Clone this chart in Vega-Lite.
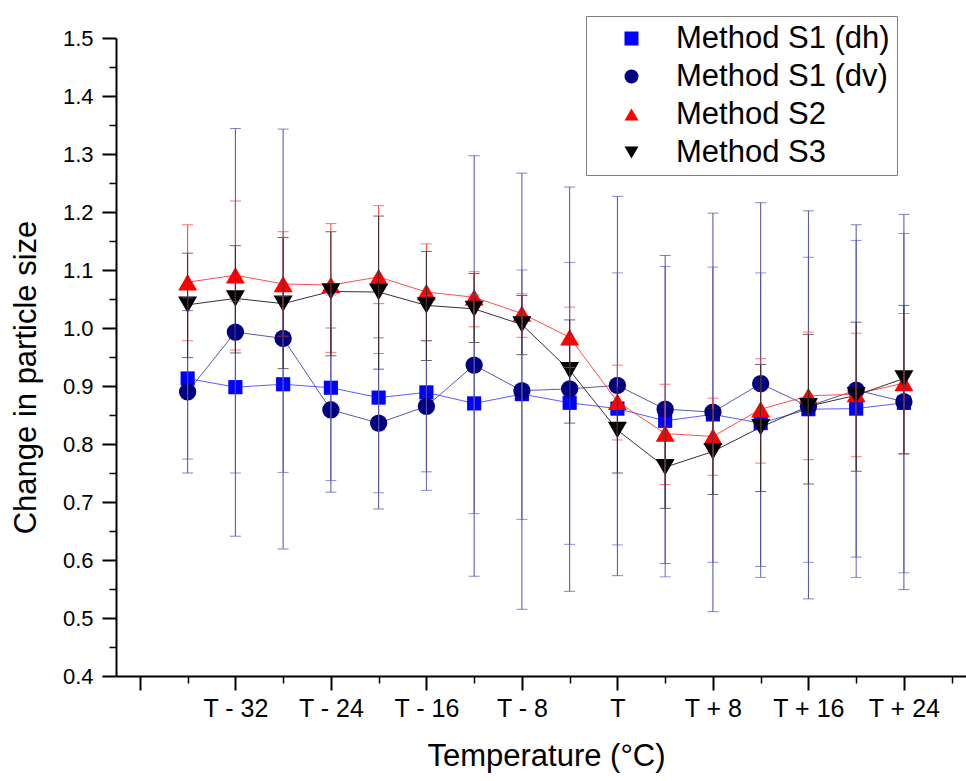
{
  "$schema": "https://vega.github.io/schema/vega-lite/v6.json",
  "width": 850,
  "height": 638,
  "autosize": {"type": "none"},
  "padding": {"left": 116, "top": 38, "right": 0, "bottom": 105},
  "background": "white",
  "config": {
    "view": {"stroke": null},
    "font": "Liberation Sans",
    "axis": {"grid": false, "domainColor": "black", "tickColor": "black", "labelColor": "black", "titleColor": "black", "labelFont": "Liberation Sans", "titleFont": "Liberation Sans", "titleFontWeight": "normal"},
    "legend": {"labelFont": "Liberation Sans"}
  },
  "data": {
    "values": [
      {"series": "Method S1 (dh)", "t": -36, "v": 0.913, "lo": 0.774, "hi": 1.052},
      {"series": "Method S1 (dh)", "t": -32, "v": 0.898, "lo": 0.750, "hi": 1.046},
      {"series": "Method S1 (dh)", "t": -28, "v": 0.903, "lo": 0.751, "hi": 1.055},
      {"series": "Method S1 (dh)", "t": -24, "v": 0.897, "lo": 0.737, "hi": 1.057},
      {"series": "Method S1 (dh)", "t": -20, "v": 0.880, "lo": 0.716, "hi": 1.042},
      {"series": "Method S1 (dh)", "t": -16, "v": 0.889, "lo": 0.720, "hi": 1.056},
      {"series": "Method S1 (dh)", "t": -12, "v": 0.870, "lo": 0.680, "hi": 1.057},
      {"series": "Method S1 (dh)", "t": -8, "v": 0.886, "lo": 0.670, "hi": 1.100},
      {"series": "Method S1 (dh)", "t": -4, "v": 0.871, "lo": 0.627, "hi": 1.113},
      {"series": "Method S1 (dh)", "t": 0, "v": 0.861, "lo": 0.626, "hi": 1.095},
      {"series": "Method S1 (dh)", "t": 4, "v": 0.840, "lo": 0.571, "hi": 1.106},
      {"series": "Method S1 (dh)", "t": 8, "v": 0.851, "lo": 0.596, "hi": 1.105},
      {"series": "Method S1 (dh)", "t": 12, "v": 0.836, "lo": 0.570, "hi": 1.095},
      {"series": "Method S1 (dh)", "t": 16, "v": 0.860, "lo": 0.596, "hi": 1.122},
      {"series": "Method S1 (dh)", "t": 20, "v": 0.861, "lo": 0.570, "hi": 1.151},
      {"series": "Method S1 (dh)", "t": 24, "v": 0.871, "lo": 0.578, "hi": 1.163},
      {"series": "Method S1 (dv)", "t": -36, "v": 0.890, "lo": 0.750, "hi": 1.030},
      {"series": "Method S1 (dv)", "t": -32, "v": 0.993, "lo": 0.641, "hi": 1.344},
      {"series": "Method S1 (dv)", "t": -28, "v": 0.982, "lo": 0.619, "hi": 1.343},
      {"series": "Method S1 (dv)", "t": -24, "v": 0.859, "lo": 0.717, "hi": 1.000},
      {"series": "Method S1 (dv)", "t": -20, "v": 0.836, "lo": 0.688, "hi": 0.983},
      {"series": "Method S1 (dv)", "t": -16, "v": 0.865, "lo": 0.752, "hi": 0.978},
      {"series": "Method S1 (dv)", "t": -12, "v": 0.936, "lo": 0.572, "hi": 1.297},
      {"series": "Method S1 (dv)", "t": -8, "v": 0.892, "lo": 0.515, "hi": 1.267},
      {"series": "Method S1 (dv)", "t": -4, "v": 0.895, "lo": 0.546, "hi": 1.243},
      {"series": "Method S1 (dv)", "t": 0, "v": 0.901, "lo": 0.573, "hi": 1.227},
      {"series": "Method S1 (dv)", "t": 4, "v": 0.860, "lo": 0.594, "hi": 1.125},
      {"series": "Method S1 (dv)", "t": 8, "v": 0.855, "lo": 0.511, "hi": 1.198},
      {"series": "Method S1 (dv)", "t": 12, "v": 0.904, "lo": 0.589, "hi": 1.216},
      {"series": "Method S1 (dv)", "t": 16, "v": 0.865, "lo": 0.533, "hi": 1.202},
      {"series": "Method S1 (dv)", "t": 20, "v": 0.893, "lo": 0.605, "hi": 1.178},
      {"series": "Method S1 (dv)", "t": 24, "v": 0.873, "lo": 0.549, "hi": 1.196},
      {"series": "Method S2", "t": -36, "v": 1.079, "lo": 0.978, "hi": 1.178},
      {"series": "Method S2", "t": -32, "v": 1.091, "lo": 0.962, "hi": 1.219},
      {"series": "Method S2", "t": -28, "v": 1.076, "lo": 0.986, "hi": 1.166},
      {"series": "Method S2", "t": -24, "v": 1.074, "lo": 0.958, "hi": 1.180},
      {"series": "Method S2", "t": -20, "v": 1.088, "lo": 0.956, "hi": 1.211},
      {"series": "Method S2", "t": -16, "v": 1.062, "lo": 0.978, "hi": 1.145},
      {"series": "Method S2", "t": -12, "v": 1.053, "lo": 1.002, "hi": 1.097},
      {"series": "Method S2", "t": -8, "v": 1.025, "lo": 0.984, "hi": 1.059},
      {"series": "Method S2", "t": -4, "v": 0.984, "lo": 0.932, "hi": 1.036},
      {"series": "Method S2", "t": 0, "v": 0.873, "lo": 0.807, "hi": 0.936},
      {"series": "Method S2", "t": 4, "v": 0.818, "lo": 0.730, "hi": 0.903},
      {"series": "Method S2", "t": 8, "v": 0.813, "lo": 0.746, "hi": 0.879},
      {"series": "Method S2", "t": 12, "v": 0.860, "lo": 0.767, "hi": 0.947},
      {"series": "Method S2", "t": 16, "v": 0.883, "lo": 0.773, "hi": 0.993},
      {"series": "Method S2", "t": 20, "v": 0.886, "lo": 0.778, "hi": 0.991},
      {"series": "Method S2", "t": 24, "v": 0.905, "lo": 0.783, "hi": 1.025},
      {"series": "Method S3", "t": -36, "v": 1.040, "lo": 0.949, "hi": 1.129},
      {"series": "Method S3", "t": -32, "v": 1.051, "lo": 0.957, "hi": 1.142},
      {"series": "Method S3", "t": -28, "v": 1.042, "lo": 0.930, "hi": 1.156},
      {"series": "Method S3", "t": -24, "v": 1.063, "lo": 0.952, "hi": 1.166},
      {"series": "Method S3", "t": -20, "v": 1.062, "lo": 0.929, "hi": 1.193},
      {"series": "Method S3", "t": -16, "v": 1.039, "lo": 0.944, "hi": 1.132},
      {"series": "Method S3", "t": -12, "v": 1.033, "lo": 0.975, "hi": 1.094},
      {"series": "Method S3", "t": -8, "v": 1.006, "lo": 0.954, "hi": 1.056},
      {"series": "Method S3", "t": -4, "v": 0.927, "lo": 0.836, "hi": 1.014},
      {"series": "Method S3", "t": 0, "v": 0.824, "lo": 0.750, "hi": 0.898},
      {"series": "Method S3", "t": 4, "v": 0.760, "lo": 0.689, "hi": 0.831},
      {"series": "Method S3", "t": 8, "v": 0.787, "lo": 0.713, "hi": 0.861},
      {"series": "Method S3", "t": 12, "v": 0.829, "lo": 0.718, "hi": 0.937},
      {"series": "Method S3", "t": 16, "v": 0.865, "lo": 0.731, "hi": 0.989},
      {"series": "Method S3", "t": 20, "v": 0.884, "lo": 0.753, "hi": 1.010},
      {"series": "Method S3", "t": 24, "v": 0.913, "lo": 0.783, "hi": 1.039}
    ]
  },
  "resolve": {"axis": {"x": "independent", "y": "independent"}},
  "layer": [
    {
      "mark": {"type": "line", "strokeWidth": 1},
      "encoding": {
        "x": {"field": "t", "type": "quantitative", "scale": {"domain": [-42, 29.2], "nice": false, "zero": false},
          "axis": {"orient": "bottom", "values": [-36, -28, -20, -12, -4, 4, 12, 20, 28], "tickSize": 7, "tickWidth": 1.5, "labels": false, "domain": false, "title": null}},
        "y": {"field": "v", "type": "quantitative", "scale": {"domain": [0.4, 1.5], "nice": false, "zero": false},
          "axis": {"orient": "left", "values": [0.45, 0.55, 0.65, 0.75, 0.85, 0.95, 1.05, 1.15, 1.25, 1.35, 1.45], "tickSize": 7, "tickWidth": 1.5, "labels": false, "domain": false, "title": null}},
        "detail": {"field": "series", "type": "nominal"},
        "stroke": {"condition": [
          {"test": "datum.series === 'Method S1 (dh)'", "value": "#5c5cff"},
          {"test": "datum.series === 'Method S1 (dv)'", "value": "#5a5aa8"},
          {"test": "datum.series === 'Method S2'", "value": "#ff4d4d"}], "value": "#333333"}
      }
    },
    {
      "mark": {"type": "point", "filled": true, "opacity": 1, "strokeWidth": 0},
      "encoding": {
        "x": {"field": "t", "type": "quantitative", "scale": {"domain": [-42, 29.2], "nice": false, "zero": false},
          "axis": {"orient": "bottom", "values": [-40, -32, -24, -16, -8, 0, 8, 16, 24], "tickSize": 14, "tickWidth": 2, "domainWidth": 2,
            "labelExpr": "datum.value == -40 ? '' : datum.value == 0 ? 'T' : datum.value < 0 ? 'T - ' + (-datum.value) : 'T + ' + datum.value",
            "labelFontSize": 25, "labelBaseline": "alphabetic", "labelPadding": 26,
            "title": "Temperature (°C)", "titleFontSize": 31, "titleBaseline": "alphabetic", "titleX": 430, "titleY": 89, "titleAnchor": "middle"}},
        "y": {"field": "v", "type": "quantitative", "scale": {"domain": [0.4, 1.5], "nice": false, "zero": false},
          "axis": {"orient": "left", "values": [0.4, 0.5, 0.6, 0.7, 0.8, 0.9, 1.0, 1.1, 1.2, 1.3, 1.4, 1.5], "format": ".1f", "tickSize": 14, "tickWidth": 2, "domainWidth": 2,
            "labelFontSize": 22, "labelPadding": 9,
            "title": "Change in particle size", "titleFontSize": 31, "titleBaseline": "alphabetic", "titleAngle": -90, "titleX": -81, "titleY": 339, "titleAnchor": "middle"}},
        "fill": {"field": "series", "type": "nominal", "scale": {"domain": ["Method S1 (dh)", "Method S1 (dv)", "Method S2", "Method S3"], "range": ["#0000ff", "#000080", "#ff0000", "#000000"]},
          "legend": {"title": null, "orient": "none", "legendX": 470, "legendY": -22, "labelFontSize": 31, "labelLimit": 500, "labelColor": "black",
            "strokeColor": "#808080", "fillColor": "white", "padding": 7, "rowPadding": 6, "symbolOffset": 23, "labelOffset": 29, "symbolSize": 196,
            "encode": {"symbols": {
              "shape": {"value": {"expr": "datum.value === 'Method S1 (dh)' ? 'M-5,0H5M-0.8,-0.8H0.8V0.8H-0.8Z' : datum.value === 'Method S1 (dv)' ? 'M-5,0H5M1,0A1,1,0,1,1,-1,0A1,1,0,1,1,1,0Z' : datum.value === 'Method S2' ? 'M-5,0H5M0,-1.175L-1.357,1.175L1.357,1.175Z' : 'M-5,0H5M0,1.175L-1.357,-1.175L1.357,-1.175Z'"}},
              "stroke": {"value": {"expr": "datum.value === 'Method S1 (dh)' ? '#6a6aff' : datum.value === 'Method S1 (dv)' ? '#6a6ab8' : datum.value === 'Method S2' ? '#ff4d4d' : '#333333'"}},
              "strokeWidth": {"value": 1},
              "size": {"value": 196},
              "opacity": {"value": 1}
            }}}},
        "shape": {"field": "series", "type": "nominal", "scale": {"domain": ["Method S1 (dh)", "Method S1 (dv)", "Method S2", "Method S3"], "range": ["square", "circle", "triangle-up", "triangle-down"]},
          "legend": {"title": null, "orient": "none", "legendX": 470, "legendY": -22, "labelFontSize": 31, "labelLimit": 500, "labelColor": "black",
            "strokeColor": "#808080", "fillColor": "white", "padding": 7, "rowPadding": 6, "symbolOffset": 23, "labelOffset": 29, "symbolSize": 196,
            "encode": {"symbols": {
              "shape": {"value": {"expr": "datum.value === 'Method S1 (dh)' ? 'M-5,0H5M-0.8,-0.8H0.8V0.8H-0.8Z' : datum.value === 'Method S1 (dv)' ? 'M-5,0H5M1,0A1,1,0,1,1,-1,0A1,1,0,1,1,1,0Z' : datum.value === 'Method S2' ? 'M-5,0H5M0,-1.175L-1.357,1.175L1.357,1.175Z' : 'M-5,0H5M0,1.175L-1.357,-1.175L1.357,-1.175Z'"}},
              "stroke": {"value": {"expr": "datum.value === 'Method S1 (dh)' ? '#6a6aff' : datum.value === 'Method S1 (dv)' ? '#6a6ab8' : datum.value === 'Method S2' ? '#ff4d4d' : '#333333'"}},
              "strokeWidth": {"value": 1},
              "size": {"value": 196},
              "opacity": {"value": 1}
            }}}},
        "size": {"condition": [{"test": "datum.series === 'Method S2' || datum.series === 'Method S3'", "value": 361}, {"test": "datum.series === 'Method S1 (dv)'", "value": 300}], "value": 200}
      }
    },
    {
      "mark": {"type": "errorbar", "ticks": {"size": 11, "thickness": 1}, "thickness": 1},
      "encoding": {
        "x": {"field": "t", "type": "quantitative", "scale": {"domain": [-42, 29.2], "nice": false, "zero": false}, "axis": null},
        "y": {"field": "lo", "type": "quantitative", "scale": {"domain": [0.4, 1.5], "nice": false, "zero": false}, "axis": null},
        "y2": {"field": "hi"},
        "detail": {"field": "series", "type": "nominal"},
        "color": {"condition": [
          {"test": "datum.series === 'Method S1 (dh)'", "value": "#6363c8"},
          {"test": "datum.series === 'Method S1 (dv)'", "value": "#4f4fa6"},
          {"test": "datum.series === 'Method S2'", "value": "#ff3b3b"}], "value": "#2a2a2a"}
      }
    }
  ]
}
